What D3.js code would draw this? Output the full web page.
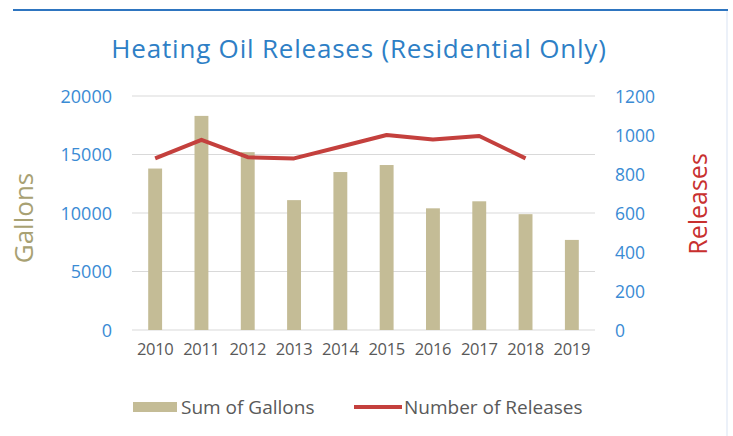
<!DOCTYPE html>
<html>
<head>
<meta charset="utf-8">
<script src="https://cdn.jsdelivr.net/npm/d3@7"></script>
<style>
    body { margin:0; background:#fff; }
    #chart { width:733px; height:436px; }
    text { font-family: "Open Sans", sans-serif; }
</style>
</head>
<body>
<div id="chart"></div>
<script>
// data
const years = ["2010","2011","2012","2013","2014","2015","2016","2017","2018","2019"];
const gallons = [13800, 18300, 15200, 11100, 13500, 14100, 10400, 11000, 9900, 7700];
const releases = [880, 975, 886, 880, 940, 1000, 977, 995, 880, null];
const gallonTicks = [0, 5000, 10000, 15000, 20000];
const releaseTicks = [0, 200, 400, 600, 800, 1000, 1200];

const width = 733;
const height = 436;
const margin = {top:96, left:132, right:138, bottom:106};

const barColor = "#c4bc96";
const lineColor = "#c4403d";
const tickColor = "#3a8bd4";

const svg = d3.select("#chart")
    .append("svg")
    .attr("width", width)
    .attr("height", height);

/*
FRAME
*/
svg.append("line")
    .attr("x1", 13).attr("x2", 728)
    .attr("y1", 10).attr("y2", 10)
    .attr("stroke", "#2e75c0")
    .attr("stroke-width", 2);

svg.append("line")
    .attr("x1", 727).attr("x2", 727)
    .attr("y1", 11).attr("y2", 436)
    .attr("stroke", "#e6edf7")
    .attr("stroke-width", 1.5);

/*
SCALES
*/
const xScale = d3.scaleBand()
    .domain(years)
    .range([margin.left, width - margin.right])
    .paddingInner(0.7)
    .paddingOuter(0.35);

const yLeft = d3.scaleLinear()
    .domain([0, 20000])
    .range([height - margin.bottom, margin.top]);

const yRight = d3.scaleLinear()
    .domain([0, 1200])
    .range([height - margin.bottom, margin.top]);

/*
GRIDLINES
*/
svg.append("g")
    .selectAll("line")
    .data(gallonTicks)
    .enter()
    .append("line")
    .attr("x1", margin.left)
    .attr("x2", width - margin.right)
    .attr("y1", d => yLeft(d))
    .attr("y2", d => yLeft(d))
    .attr("stroke", "#d9d9d9")
    .attr("stroke-width", 1.2);

/*
BARS + LINE
*/
svg.selectAll(".bar")
    .data(years)
    .enter()
    .append("rect")
    .attr("class", "bar")
    .attr("x", (d) => xScale(d))
    .attr("width", xScale.bandwidth())
    .attr("y", (d, i) => yLeft(gallons[i]))
    .attr("height", (d, i) => yLeft(0) - yLeft(gallons[i]))
    .attr("fill", barColor);

const line = d3.line()
    .defined(d => d[1] != null)
    .x(d => xScale(d[0]) + xScale.bandwidth()/2)
    .y(d => yRight(d[1]));

svg.append("path")
    .datum(years.map((y, i) => [y, releases[i]]))
    .attr("d", line)
    .attr("fill", "none")
    .attr("stroke", lineColor)
    .attr("stroke-width", 4)
    .attr("stroke-linejoin", "round");

/*
AXES
*/
let leftAxis = svg.append("g")
    .attr("transform", `translate(${margin.left - 20},0)`)
    .call(d3.axisLeft(yLeft).tickValues(gallonTicks).tickSize(0).tickFormat(d3.format("d")));
leftAxis.select(".domain").remove();
leftAxis.selectAll("text")
    .attr("x", 0)
    .attr("dy", "0.35em")
    .style("font-family", "Open Sans, sans-serif")
    .style("font-size", "18px")
    .attr("fill", tickColor);

let rightAxis = svg.append("g")
    .attr("transform", `translate(${width - margin.right + 20},0)`)
    .call(d3.axisRight(yRight).tickValues(releaseTicks).tickSize(0).tickFormat(d3.format("d")));
rightAxis.select(".domain").remove();
rightAxis.selectAll("text")
    .attr("x", 0)
    .attr("dy", "0.35em")
    .style("font-family", "Open Sans, sans-serif")
    .style("font-size", "17.5px")
    .attr("fill", tickColor);

let bottomAxis = svg.append("g")
    .attr("transform", `translate(0,${height - margin.bottom})`)
    .call(d3.axisBottom(xScale).tickSize(0));
bottomAxis.select(".domain").remove();
bottomAxis.selectAll("text")
    .attr("y", 19)
    .attr("dy", "0.35em")
    .style("font-family", "Open Sans, sans-serif")
    .style("font-size", "16.5px")
    .style("letter-spacing", "-0.3px")
    .attr("fill", "#595959");

/*
LABELS
*/
svg.append("text")
    .attr("x", 359)
    .attr("y", 58)
    .attr("text-anchor", "middle")
    .attr("fill", "#2e7fc6")
    .style("font-size", "26px")
    .style("letter-spacing", "0.8px")
    .text("Heating Oil Releases (Residential Only)");

svg.append("text")
    .attr("transform", "translate(33,218) rotate(-90)")
    .attr("text-anchor", "middle")
    .attr("fill", "#a8a173")
    .style("font-size", "26px")
    .text("Gallons");

svg.append("text")
    .attr("transform", "translate(707,204) rotate(-90)")
    .attr("text-anchor", "middle")
    .attr("fill", "#c8302f")
    .style("font-size", "25px")
    .text("Releases");

/*
LEGEND
*/
svg.append("rect")
    .attr("x", 133).attr("y", 402)
    .attr("width", 44).attr("height", 10)
    .attr("fill", barColor);

svg.append("text")
    .attr("x", 181).attr("y", 414)
    .attr("fill", "#595959")
    .style("font-size", "19px")
    .text("Sum of Gallons");

svg.append("line")
    .attr("x1", 354).attr("x2", 402)
    .attr("y1", 407).attr("y2", 407)
    .attr("stroke", lineColor)
    .attr("stroke-width", 4);

svg.append("text")
    .attr("x", 404).attr("y", 414)
    .attr("fill", "#595959")
    .style("font-size", "19px")
    .text("Number of Releases");
</script>
</body>
</html>
